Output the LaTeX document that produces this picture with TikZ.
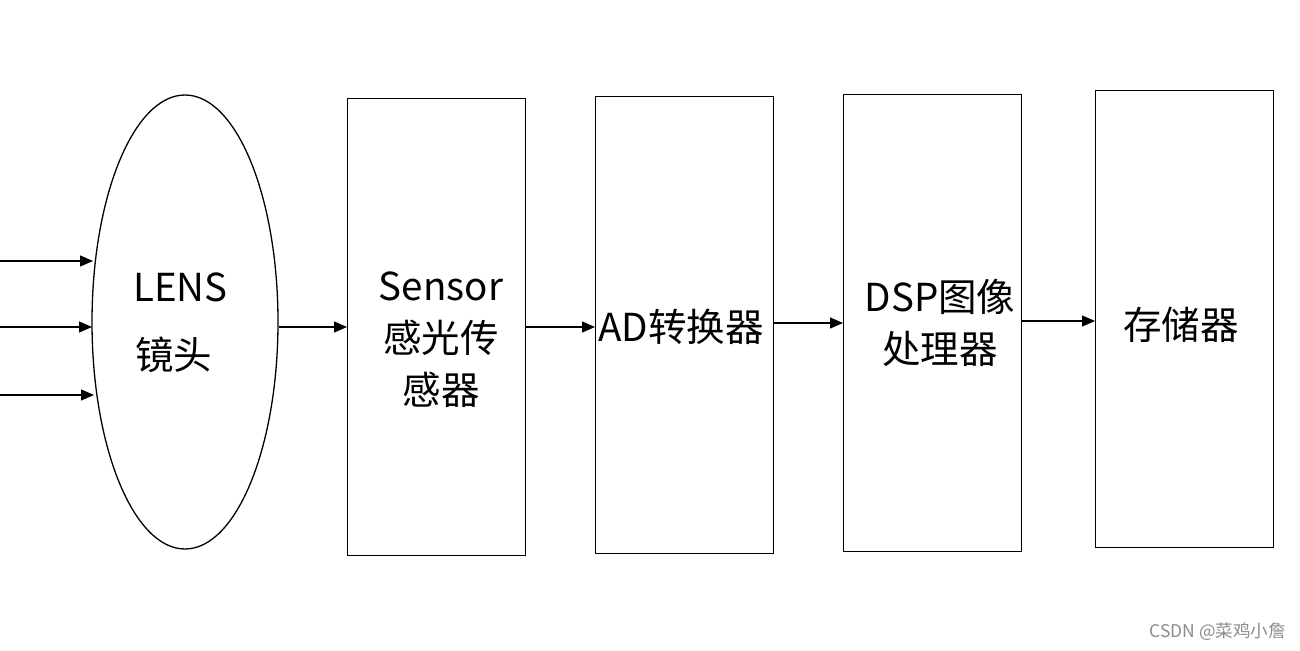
\documentclass[tikz,border=0pt]{standalone}
\usepackage{fontspec}
\setmainfont{Noto Sans CJK SC}
\usetikzlibrary{shapes.geometric,arrows.meta}
\begin{document}
\begin{tikzpicture}[x=1pt,y=-1pt,
  blockbox/.style={draw=black,line width=1.3pt,minimum width=178pt,minimum height=457pt,inner sep=0pt,anchor=north west},
  lbl/.style={font=\fontsize{38.5}{52}\selectfont,align=center,inner sep=0pt},
  conn/.style={line width=1.2pt,-{Triangle[length=13pt,width=11pt]}}]
\useasboundingbox[fill=white] (0,0) rectangle (1300,650);
\node[draw=black,line width=1.3pt,ellipse,minimum width=186pt,minimum height=454pt,inner sep=0pt] (lens) at (185,322) {};
\node[lbl,anchor=west] (lenst) at (133,287) {LENS};
\node[lbl,anchor=west] (jt) at (135,355) {镜头};
\node[blockbox] (sensor) at (347,98) {};
\node[blockbox] (ad) at (595,96) {};
\node[blockbox] (dsp) at (843,94) {};
\node[blockbox] (mem) at (1095,90) {};
\node[lbl] (sensort) at (441,340) {Sensor\\感光传\\感器};
\node[lbl] (adt) at (681,327) {AD转换器};
\node[lbl] (dspt) at (940,323) {DSP图像\\处理器};
\node[lbl] (memt) at (1181,325) {存储器};
\coordinate (i1) at (0,261); \coordinate (e1) at (93,261);
\coordinate (i2) at (0,327); \coordinate (e2) at (92,327);
\coordinate (i3) at (0,395); \coordinate (e3) at (94,395);
\draw[conn] (i1) -- (e1);
\draw[conn] (i2) -- (e2);
\draw[conn] (i3) -- (e3);
\draw[conn] (lens.east |- 0,327) -- (sensor.west |- 0,327);
\draw[conn] (sensor.east |- 0,327) -- (ad.west |- 0,327);
\draw[conn] (ad.east |- 0,323) -- (dsp.west |- 0,323);
\draw[conn] (dsp.east |- 0,321) -- (mem.west |- 0,321);
\node[anchor=east,text=black!45,font=\fontsize{17.5}{19}\selectfont,inner sep=0pt] (wm) at (1286,632) {CSDN @菜鸡小詹};
\end{tikzpicture}
\end{document}
